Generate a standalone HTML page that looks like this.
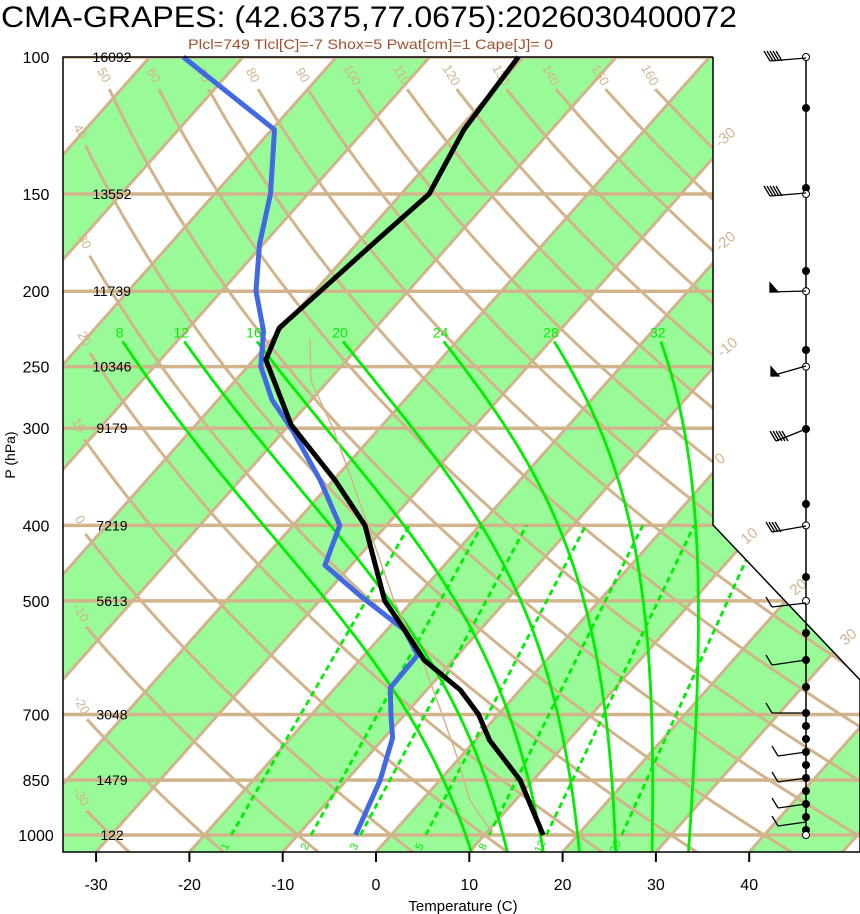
<!DOCTYPE html>
<html><head><meta charset="utf-8"><style>
html,body{margin:0;padding:0;background:#fff;width:860px;height:914px;overflow:hidden}
svg{display:block;font-family:"Liberation Sans",sans-serif}
</style></head><body>
<svg id="chart" width="860" height="914" viewBox="0 0 860 914" xmlns="http://www.w3.org/2000/svg">
<defs><clipPath id="plotclip"><polygon points="63,57 713,57 713,525 860,680 860,852 63,852"/></clipPath></defs>
<text x="1" y="27" font-size="30" textLength="736" lengthAdjust="spacingAndGlyphs">CMA-GRAPES: (42.6375,77.0675):2026030400072</text>
<text x="188" y="49" font-size="14" fill="#A0522D" textLength="365" lengthAdjust="spacingAndGlyphs">Plcl=749 Tlcl[C]=-7 Shox=5 Pwat[cm]=1 Cape[J]= 0</text>
<g id="bg" clip-path="url(#plotclip)"></g>
<g id="fg"></g>
</svg>
<script>
// ---- data ----
const tempPressures = [100,124,150,174,200,223,245,297,350,400,500,545,596,651,700,755,850,1000];
const tempValues    = [-60.5,-59.4,-57.0,-58.3,-59.4,-60.3,-58.7,-49.8,-39.8,-32.3,-23.0,-18.1,-13.1,-6.4,-2.1,1.5,8.6,16.3];
const dewPressures  = [100,124,150,174,200,225,250,276,302,350,400,450,492,545,587,647,700,750,850,1000];
const dewValues     = [-96.4,-79.7,-74.0,-70.4,-66.3,-61.7,-58.6,-54.2,-49.1,-41.4,-35.0,-32.8,-26.2,-18.1,-14.3,-14.1,-11.5,-9.1,-6.4,-3.8];
const isobarLevels  = [100,150,200,250,300,400,500,700,850,1000];
const heightLabels  = ["16092","13552","11739","10346","9179","7219","5613","3048","1479","122"];
const xTicks        = [-30,-20,-10,0,10,20,30,40];
const moistLabels   = [8,12,16,20,24,28,32];
const mixingRatios  = [1,2,3,5,8,12,20];
const thetaLabels   = [-30,-20,-10,0,10,20,30,40,50,60,70,80,90,100,110,120,130,140,150,160];
const parcelPressures = [230,260,300,350,400,500,600,700,800,900,1000];
const parcelValues    = [-56,-52,-45,-38,-32,-22,-13,-6,0,5,11];
const dotLevels = [108,188,271,350,429,504,577,633,660,687,713,726,739,752,765,778,791,804,817,830];
const circleLevels = [100,150,200,250,400,500,1000];

// ---- axes ----
const SK = 0.889, PX = 9.33, X0 = 376;
function Y(p){return 57 + 337.9*Math.log(p/100);}
function X(T,p){return X0 + PX*T + SK*(852 - Y(p));}
function XY(T,y){return X0 + PX*T + SK*(852 - y);}
const NS="http://www.w3.org/2000/svg";
const bg=document.getElementById('bg'), fg=document.getElementById('fg');
function mk(tag,attrs,parent){const e=document.createElementNS(NS,tag);for(const k in attrs)e.setAttribute(k,attrs[k]);parent.appendChild(e);return e;}
function pts(a){return a.map(q=>q[0].toFixed(1)+','+q[1].toFixed(1)).join(' ');}
const TAN="#D2B48C", GR="#00EE00";

for(let T=-160;T<=60;T+=20){
  const b=mk('polygon',{points:pts([[XY(T,852),852],[XY(T+10,852),852],[XY(T+10,57),57],[XY(T,57),57]]),fill:'#98FB98'},bg);
  
  
}
for(let T=-160;T<=60;T+=10){
  const l=mk('line',{x1:XY(T,852),y1:852,x2:XY(T,57),y2:57,stroke:TAN,'stroke-width':3},bg);
  
  
}
thetaLabels.forEach(th=>{
  const a=[];
  for(let p=110;p<=1060;p+=10){const T=(th+273.15)*Math.pow(p/1000,0.286)-273.15;const x=X(T,p),y=Y(p);if(x>=84)a.push([x,y]);}
  if(!a.length)return;
  const l=mk('polyline',{points:pts(a),fill:'none',stroke:TAN,'stroke-width':3},bg);
  
  
  const lx=a[0][0]-9, ly=a[0][1]-12;
  const t=mk('text',{x:lx,y:ly,'font-size':13,fill:TAN,'text-anchor':'middle',transform:`rotate(60 ${lx} ${ly})`},fg);
  t.textContent=th;
  
  
});
isobarLevels.forEach((p,i)=>{
  const l=mk('line',{x1:63,y1:Y(p),x2:860,y2:Y(p),stroke:TAN,'stroke-width':3.5},bg);
  
  
});
function es(Tc){return 6.112*Math.exp(17.67*Tc/(Tc+243.5));}
function dTdp(T,p){const Tc=T-273.15,e=es(Tc),rs=0.622*e/(p-e),L=2.5e6,Rd=287,cp=1004;
  return (1/p)*(Rd*T+L*rs)/(cp+L*L*rs*0.622/(Rd*T*T));}
moistLabels.forEach(T0=>{
  const a=[];let T=T0+273.15,p=1000;
  let Tb=T; for(let q=1000;q<1050;q+=1){Tb+=dTdp(Tb,q)*1;}
  a.push([X(Tb-273.15,1050),Y(1050)]);
  while(p>232){a.push([X(T-273.15,p),Y(p)]);T-=dTdp(T,p)*2;p-=2;}
  a.push([X(T-273.15,p),Y(p)]);
  const l=mk('polyline',{points:pts(a),fill:'none',stroke:GR,'stroke-width':2.8},bg);
  
  
  const t=mk('text',{x:a[a.length-1][0]-3,y:a[a.length-1][1]-4,'font-size':14,fill:GR,'text-anchor':'middle'},fg);
  t.textContent=T0;
  
  
});
function tdFromW(w,p){const e=w*p/(622+w),l=Math.log(e/6.112);return 243.5*l/(17.67-l);}
mixingRatios.forEach(w=>{
  const x1=X(tdFromW(w,1000),1000),x2=X(tdFromW(w,400),400);
  const l=mk('line',{x1:x1,y1:Y(1000),x2:x2,y2:Y(400),stroke:GR,'stroke-width':2.8,'stroke-dasharray':'6,4'},bg);
  
  
  const lx=x1-3, ly=Y(1000)+13;
  const t=mk('text',{x:lx,y:ly,'font-size':11,fill:GR,'text-anchor':'middle',transform:`rotate(-65 ${lx} ${ly})`},fg);
  t.textContent=w;
  
  
});
const pp=mk('polyline',{points:pts(parcelPressures.map((p,i)=>[X(parcelValues[i],p),Y(p)])),fill:'none',stroke:TAN,'stroke-width':1.5},bg);


const dl=mk('polyline',{points:pts(dewPressures.map((p,i)=>[X(dewValues[i],p),Y(p)])),fill:'none',stroke:'#4169E1','stroke-width':5,'stroke-linejoin':'round'},fg);


const tl=mk('polyline',{points:pts(tempPressures.map((p,i)=>[X(tempValues[i],p),Y(p)])),fill:'none',stroke:'#000','stroke-width':5,'stroke-linejoin':'round'},fg);


const fr=mk('polyline',{points:'713,57 63,57 63,852 860,852 860,680 713,525 713,57',fill:'none',stroke:'#000','stroke-width':1.5},fg);


[[-30,720,148],[-20,720,252],[-10,722,358],[0,720,465],[10,746,545],[20,795,596],[30,845,646]].forEach(d=>{
  const t=mk('text',{x:d[1],y:d[2],'font-size':15,fill:TAN,transform:`rotate(-40 ${d[1]} ${d[2]})`},fg);
  t.textContent=d[0];
  
  
});
isobarLevels.forEach((p,i)=>{
  const t=mk('text',{x:36,y:Y(p)+6,'font-size':16,'text-anchor':'middle'},fg);
  t.textContent=p;
  
  
  const h=mk('text',{x:112,y:Y(p)+5,'font-size':14,'text-anchor':'middle'},fg);
  h.textContent=heightLabels[i];
  
  
});
xTicks.forEach(T=>{
  const x=XY(T,852);
  const l=mk('line',{x1:x,y1:852,x2:x,y2:862,stroke:'#000','stroke-width':2},fg);
  
  
  const t=mk('text',{x:x,y:890,'font-size':16,'text-anchor':'middle'},fg);
  t.textContent=T;
  
  
});
const xt=mk('text',{x:463,y:911,'font-size':15,'text-anchor':'middle'},fg);
xt.textContent='Temperature (C)';


const yt=mk('text',{x:15,y:455,'font-size':14,'text-anchor':'middle',transform:'rotate(-90 15 455)'},fg);
yt.textContent='P (hPa)';


const wc=mk('line',{x1:806,y1:57,x2:806,y2:835,stroke:'#000','stroke-width':1.5},fg);


dotLevels.forEach(y=>{
  const c=mk('circle',{cx:806,cy:y,r:4,fill:'#000'},fg);
  
  
});
circleLevels.forEach(p=>{
  const c=mk('circle',{cx:806,cy:Y(p),r:3.5,fill:'#fff',stroke:'#000'},fg);
  
  
});
[[58,770,61,5,0],[193,770,196,5,0],[291,770,292,0,1],[366,771,376,0,1],[429,776,441,5,0],[526,772,532,4,0],[603,772,607,1,0],[660,772,665,1,0],[713,772,713,1,0],[752,778,756,1,0],[778,778,782,1,0],[804,778,808,1,0],[822,778,826,1,0]].forEach(b=>{
  const g=mk('g',{stroke:'#000','stroke-width':1.3,fill:'#000'},fg);
  
  
  mk('line',{x1:806,y1:b[0],x2:b[1],y2:b[2]},g);
  for(let k=0;k<b[3];k++){const x=b[1]+k*3;mk('line',{x1:x,y1:b[2],x2:x-6,y2:b[2]-10},g);}
  if(b[4])mk('polygon',{points:`${b[1]},${b[2]} ${b[1]+8},${b[2]} ${b[1]},${b[2]-9}`},g);
});
</script>
</body></html>
